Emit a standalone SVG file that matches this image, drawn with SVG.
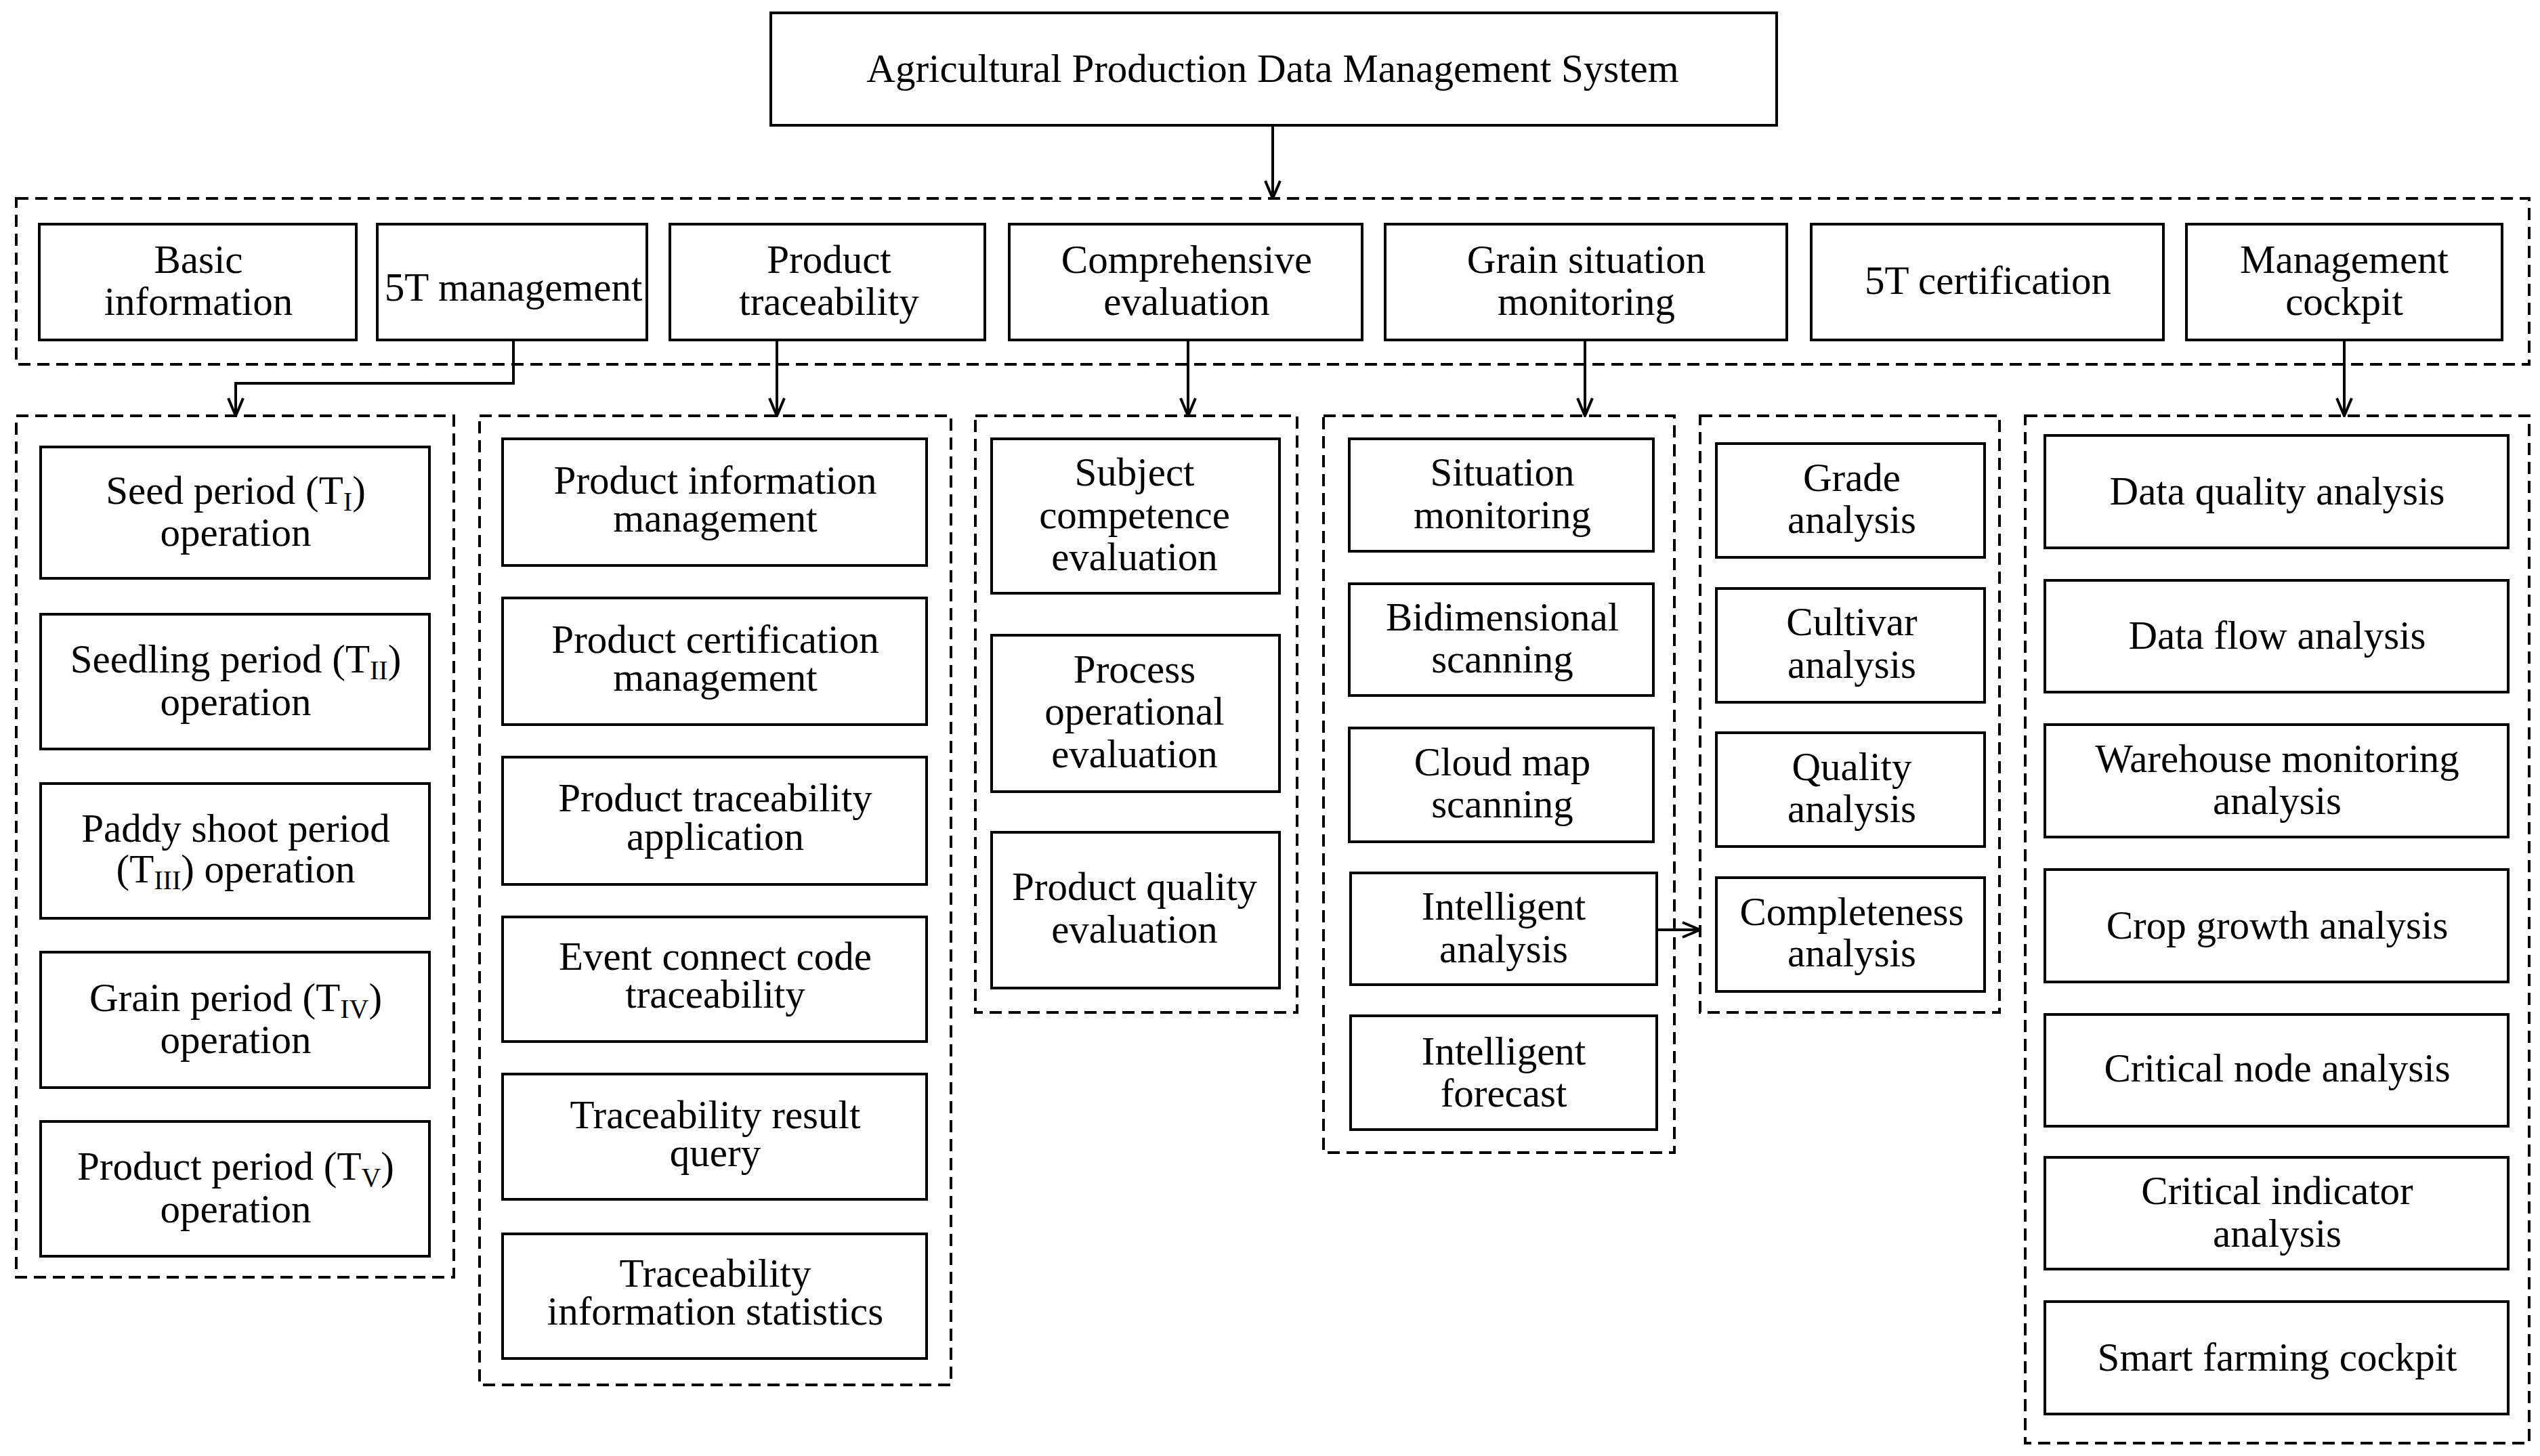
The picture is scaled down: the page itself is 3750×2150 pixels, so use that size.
<svg xmlns="http://www.w3.org/2000/svg" width="3750" height="2150" viewBox="0 0 3750 2150">
<style>
.b{fill:#fff;stroke:#000;stroke-width:4}
.d{fill:none;stroke:#000;stroke-width:4;stroke-dasharray:18 10}
.c{fill:none;stroke:#000;stroke-width:4;marker-end:url(#a)}
text{font-family:"Liberation Serif","Times New Roman",serif;font-size:59px;text-anchor:middle;fill:#000}
.s{font-size:40px}
</style>
<defs><marker id="a" viewBox="0 0 30 30" markerWidth="30" markerHeight="30" refX="28" refY="15" orient="auto" markerUnits="userSpaceOnUse"><path d="M2,4 L28,15 L2,26" fill="none" stroke="#000" stroke-width="4"/></marker></defs>
<rect width="3750" height="2150" fill="#fff"/>
<g id="containers">
<rect class="d" x="24" y="293" width="3710" height="245"/>
<rect class="d" x="24" y="614" width="646" height="1272"/>
<rect class="d" x="708" y="614" width="696" height="1431"/>
<rect class="d" x="1440" y="614" width="475" height="881"/>
<rect class="d" x="1954" y="614" width="518" height="1088"/>
<rect class="d" x="2510" y="614" width="442" height="881"/>
<rect class="d" x="2990" y="614" width="744" height="1517"/>
</g>
<g id="connectors">
<path class="c" d="M1879,185 V293"/>
<path class="c" d="M758,502 V566 H348 V614"/>
<path class="c" d="M1147,502 V614"/>
<path class="c" d="M1754,502 V614"/>
<path class="c" d="M2340,502 V614"/>
<path class="c" d="M3461,502 V614"/>
<path class="c" d="M2446,1373 H2510"/>
</g>
<g id="title"><rect class="b" x="1138" y="19" width="1485" height="166"/><text x="1879" y="121">Agricultural Production Data Management System</text></g>
<g id="basic"><rect class="b" x="58" y="331" width="468" height="171"/><text x="293" y="403">Basic</text><text x="293" y="465">information</text></g>
<g id="t5m"><rect class="b" x="557" y="331" width="398" height="171"/><text x="758" y="444">5T management</text></g>
<g id="pt"><rect class="b" x="989" y="331" width="465" height="171"/><text x="1224" y="403">Product</text><text x="1224" y="465">traceability</text></g>
<g id="ce"><rect class="b" x="1490" y="331" width="521" height="171"/><text x="1752" y="403">Comprehensive</text><text x="1752" y="465">evaluation</text></g>
<g id="gsm"><rect class="b" x="2045" y="331" width="593" height="171"/><text x="2342" y="403">Grain situation</text><text x="2342" y="465">monitoring</text></g>
<g id="t5c"><rect class="b" x="2674" y="331" width="520" height="171"/><text x="2935" y="434">5T certification</text></g>
<g id="mc"><rect class="b" x="3228" y="331" width="466" height="171"/><text x="3461" y="403">Management</text><text x="3461" y="465">cockpit</text></g>

<g id="seed"><rect class="b" x="60" y="660" width="574" height="194"/><text x="348" y="744">Seed period (T<tspan class="s" dy="10">I</tspan><tspan dy="-10">)</tspan></text><text x="348" y="806">operation</text></g>
<g id="seedling"><rect class="b" x="60" y="907" width="574" height="199"/><text x="348" y="993">Seedling period (T<tspan class="s" dy="10">II</tspan><tspan dy="-10">)</tspan></text><text x="348" y="1056">operation</text></g>
<g id="paddy"><rect class="b" x="60" y="1157" width="574" height="199"/><text x="348" y="1243">Paddy shoot period</text><text x="348" y="1303">(T<tspan class="s" dy="10">III</tspan><tspan dy="-10">) operation</tspan></text></g>
<g id="grain"><rect class="b" x="60" y="1406" width="574" height="200"/><text x="348" y="1493">Grain period (T<tspan class="s" dy="10">IV</tspan><tspan dy="-10">)</tspan></text><text x="348" y="1555">operation</text></g>
<g id="product"><rect class="b" x="60" y="1656" width="574" height="199"/><text x="348" y="1742">Product period (T<tspan class="s" dy="10">V</tspan><tspan dy="-10">)</tspan></text><text x="348" y="1805">operation</text></g>

<g id="pim"><rect class="b" x="742" y="648" width="626" height="187"/><text x="1056" y="729">Product information</text><text x="1056" y="785">management</text></g>
<g id="pcm"><rect class="b" x="742" y="883" width="626" height="187"/><text x="1056" y="964">Product certification</text><text x="1056" y="1020">management</text></g>
<g id="pta"><rect class="b" x="742" y="1118" width="626" height="188"/><text x="1056" y="1198">Product traceability</text><text x="1056" y="1255">application</text></g>
<g id="ecc"><rect class="b" x="742" y="1354" width="626" height="184"/><text x="1056" y="1432">Event connect code</text><text x="1056" y="1488">traceability</text></g>
<g id="trq"><rect class="b" x="742" y="1586" width="626" height="185"/><text x="1056" y="1666">Traceability result</text><text x="1056" y="1722">query</text></g>
<g id="tis"><rect class="b" x="742" y="1822" width="626" height="184"/><text x="1056" y="1900">Traceability</text><text x="1056" y="1956">information statistics</text></g>

<g id="sce"><rect class="b" x="1464" y="648" width="425" height="228"/><text x="1675" y="717">Subject</text><text x="1675" y="780">competence</text><text x="1675" y="842">evaluation</text></g>
<g id="poe"><rect class="b" x="1464" y="938" width="425" height="231"/><text x="1675" y="1008">Process</text><text x="1675" y="1070">operational</text><text x="1675" y="1133">evaluation</text></g>
<g id="pqe"><rect class="b" x="1464" y="1229" width="425" height="230"/><text x="1675" y="1329">Product quality</text><text x="1675" y="1392">evaluation</text></g>

<g id="sm"><rect class="b" x="1992" y="648" width="449" height="166"/><text x="2218" y="717">Situation</text><text x="2218" y="780">monitoring</text></g>
<g id="bs"><rect class="b" x="1992" y="862" width="449" height="165"/><text x="2218" y="931">Bidimensional</text><text x="2218" y="993">scanning</text></g>
<g id="cms"><rect class="b" x="1992" y="1075" width="449" height="168"/><text x="2218" y="1145">Cloud map</text><text x="2218" y="1207">scanning</text></g>
<g id="ia"><rect class="b" x="1994" y="1289" width="452" height="165"/><text x="2220" y="1358">Intelligent</text><text x="2220" y="1421">analysis</text></g>
<g id="if"><rect class="b" x="1994" y="1500" width="452" height="168"/><text x="2220" y="1572">Intelligent</text><text x="2220" y="1634">forecast</text></g>

<g id="ga"><rect class="b" x="2534" y="655" width="396" height="168"/><text x="2734" y="725">Grade</text><text x="2734" y="787">analysis</text></g>
<g id="cva"><rect class="b" x="2534" y="869" width="396" height="168"/><text x="2734" y="938">Cultivar</text><text x="2734" y="1001">analysis</text></g>
<g id="qa"><rect class="b" x="2534" y="1082" width="396" height="168"/><text x="2734" y="1152">Quality</text><text x="2734" y="1214">analysis</text></g>
<g id="coa"><rect class="b" x="2534" y="1296" width="396" height="168"/><text x="2734" y="1366">Completeness</text><text x="2734" y="1427">analysis</text></g>

<g id="dqa"><rect class="b" x="3019" y="643" width="684" height="166"/><text x="3362" y="745">Data quality analysis</text></g>
<g id="dfa"><rect class="b" x="3019" y="857" width="684" height="165"/><text x="3362" y="958">Data flow analysis</text></g>
<g id="wma"><rect class="b" x="3019" y="1070" width="684" height="166"/><text x="3362" y="1140">Warehouse monitoring</text><text x="3362" y="1202">analysis</text></g>
<g id="cga"><rect class="b" x="3019" y="1284" width="684" height="166"/><text x="3362" y="1386">Crop growth analysis</text></g>
<g id="cna"><rect class="b" x="3019" y="1498" width="684" height="165"/><text x="3362" y="1597">Critical node analysis</text></g>
<g id="cia"><rect class="b" x="3019" y="1709" width="684" height="165"/><text x="3362" y="1778">Critical indicator</text><text x="3362" y="1841">analysis</text></g>
<g id="sfc"><rect class="b" x="3019" y="1922" width="684" height="166"/><text x="3362" y="2024">Smart farming cockpit</text></g>
</svg>
